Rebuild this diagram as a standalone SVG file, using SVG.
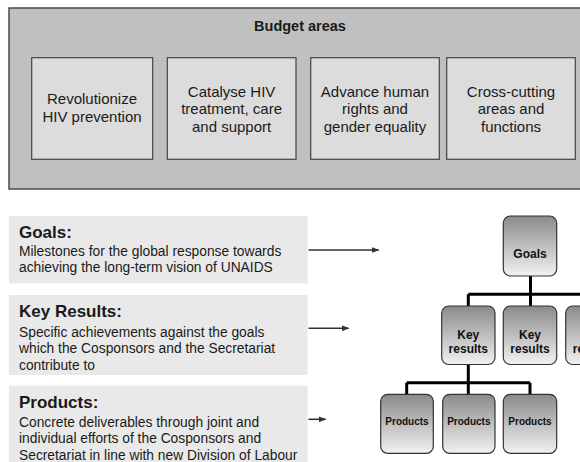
<svg xmlns="http://www.w3.org/2000/svg" width="580" height="462" viewBox="0 0 580 462">
<style>
.t{font-family:"Liberation Sans",Arial,sans-serif;fill:#1a1a1a}
.area{fill:#dcdcdc;stroke:#444;stroke-width:1.2}
.at{font-size:15px;text-anchor:middle}
.desc{fill:#e9e9e9}
.h{font-size:17px;font-weight:bold}
.b{font-size:13.8px}
.node{fill:url(#g);stroke:#333;stroke-width:1.2}
.nt{font-weight:bold;text-anchor:middle;font-size:12px;fill:#111}
.pt{font-size:10px}
.con{stroke:#000;stroke-width:3;fill:none}
.arr{stroke:#333;stroke-width:1.6;fill:none;marker-end:url(#ah)}
</style>
<defs>
<linearGradient id="g" x1="0" y1="0" x2="0" y2="1">
<stop offset="0" stop-color="#8a8a8a"/>
<stop offset="1" stop-color="#f2f2f2"/>
</linearGradient>
<marker id="ah" markerWidth="8" markerHeight="6" refX="7" refY="3" orient="auto" markerUnits="userSpaceOnUse">
<path d="M0,0 L8,3 L0,6 Z" fill="#333"/>
</marker>
</defs>
<rect width="580" height="462" fill="#fff"/>

<g id="budget-areas">
<rect x="9" y="8" width="590" height="181" fill="#c0c0c0" stroke="#4a4a4a" stroke-width="1.5"/>
<text class="t" x="300" y="31" font-size="14.5" font-weight="bold" text-anchor="middle">Budget areas</text>
</g>
<g id="area-prevention">
<rect class="area" x="31.7" y="57.7" width="121" height="101.6"/>
<text class="t at" x="92" y="104.3">Revolutionize</text>
<text class="t at" x="92" y="121.7">HIV prevention</text>
</g>
<g id="area-treatment">
<rect class="area" x="167.3" y="57.7" width="128.7" height="101.6"/>
<text class="t at" x="231.6" y="96.7">Catalyse HIV</text>
<text class="t at" x="231.6" y="114.2">treatment, care</text>
<text class="t at" x="231.6" y="131.7">and support</text>
</g>
<g id="area-rights">
<rect class="area" x="310.7" y="57.7" width="128.6" height="101.6"/>
<text class="t at" x="375" y="96.7">Advance human</text>
<text class="t at" x="375" y="114.2">rights and</text>
<text class="t at" x="375" y="131.7">gender equality</text>
</g>
<g id="area-crosscutting">
<rect class="area" x="446.7" y="57.7" width="128.6" height="101.6"/>
<text class="t at" x="511" y="96.7">Cross-cutting</text>
<text class="t at" x="511" y="114.2">areas and</text>
<text class="t at" x="511" y="131.7">functions</text>
</g>

<g id="desc-goals">
<rect class="desc" x="9" y="216" width="298.7" height="67.5"/>
<text class="t h" x="19" y="238">Goals:</text>
<text class="t b" x="19" y="255.7">Milestones for the global response towards</text>
<text class="t b" x="19" y="272.2">achieving the long-term vision of UNAIDS</text>
</g>
<g id="desc-keyresults">
<rect class="desc" x="9" y="295" width="298.7" height="80"/>
<text class="t h" x="19" y="317">Key Results:</text>
<text class="t b" x="19" y="336.5">Specific achievements against the goals</text>
<text class="t b" x="19" y="353">which the Cosponsors and the Secretariat</text>
<text class="t b" x="19" y="369.5">contribute to</text>
</g>
<g id="desc-products">
<rect class="desc" x="9" y="385.7" width="298.7" height="76.3"/>
<text class="t h" x="19" y="407.7">Products:</text>
<text class="t b" x="19" y="426.5">Concrete deliverables through joint and</text>
<text class="t b" x="19" y="443">individual efforts of the Cosponsors and</text>
<text class="t b" x="19" y="459.5">Secretariat in line with new Division of Labour</text>
</g>

<g id="connectors">
<line class="arr" x1="308.5" y1="250" x2="378.5" y2="250"/>
<line class="arr" x1="308.5" y1="328.3" x2="348.5" y2="328.3"/>
<line class="arr" x1="308.5" y1="419.3" x2="325.5" y2="419.3"/>
<path class="con" d="M530.5,276 V306 M468.3,294.3 H582 M468.3,294.3 V306 M468.3,364.5 V394.3 M406.7,382.7 H530 M406.7,382.7 V394.3 M530,382.7 V394.3"/>
</g>

<g id="node-goals">
<rect class="node" x="503.3" y="216" width="53.4" height="60" rx="7"/>
<text class="t nt" x="530" y="258">Goals</text>
</g>
<g id="node-kr1">
<rect class="node" x="441.7" y="306" width="53.3" height="58.5" rx="7"/>
<text class="t nt" x="468.3" y="338.5">Key</text>
<text class="t nt" x="468.3" y="352.5">results</text>
</g>
<g id="node-kr2">
<rect class="node" x="503.3" y="306" width="53.4" height="58.5" rx="7"/>
<text class="t nt" x="530" y="338.5">Key</text>
<text class="t nt" x="530" y="352.5">results</text>
</g>
<g id="node-kr3">
<rect class="node" x="565.7" y="306" width="53.4" height="58.5" rx="7"/>
<text class="t nt" x="592.4" y="338.5">Key</text>
<text class="t nt" x="592.4" y="352.5">results</text>
</g>
<g id="node-p1">
<rect class="node" x="380.7" y="394.3" width="52.6" height="59" rx="7"/>
<text class="t nt pt" x="407" y="425">Products</text>
</g>
<g id="node-p2">
<rect class="node" x="442.7" y="394.3" width="52.3" height="59" rx="7"/>
<text class="t nt pt" x="468.8" y="425">Products</text>
</g>
<g id="node-p3">
<rect class="node" x="503.3" y="394.3" width="53.4" height="59" rx="7"/>
<text class="t nt pt" x="530" y="425">Products</text>
</g>
</svg>
